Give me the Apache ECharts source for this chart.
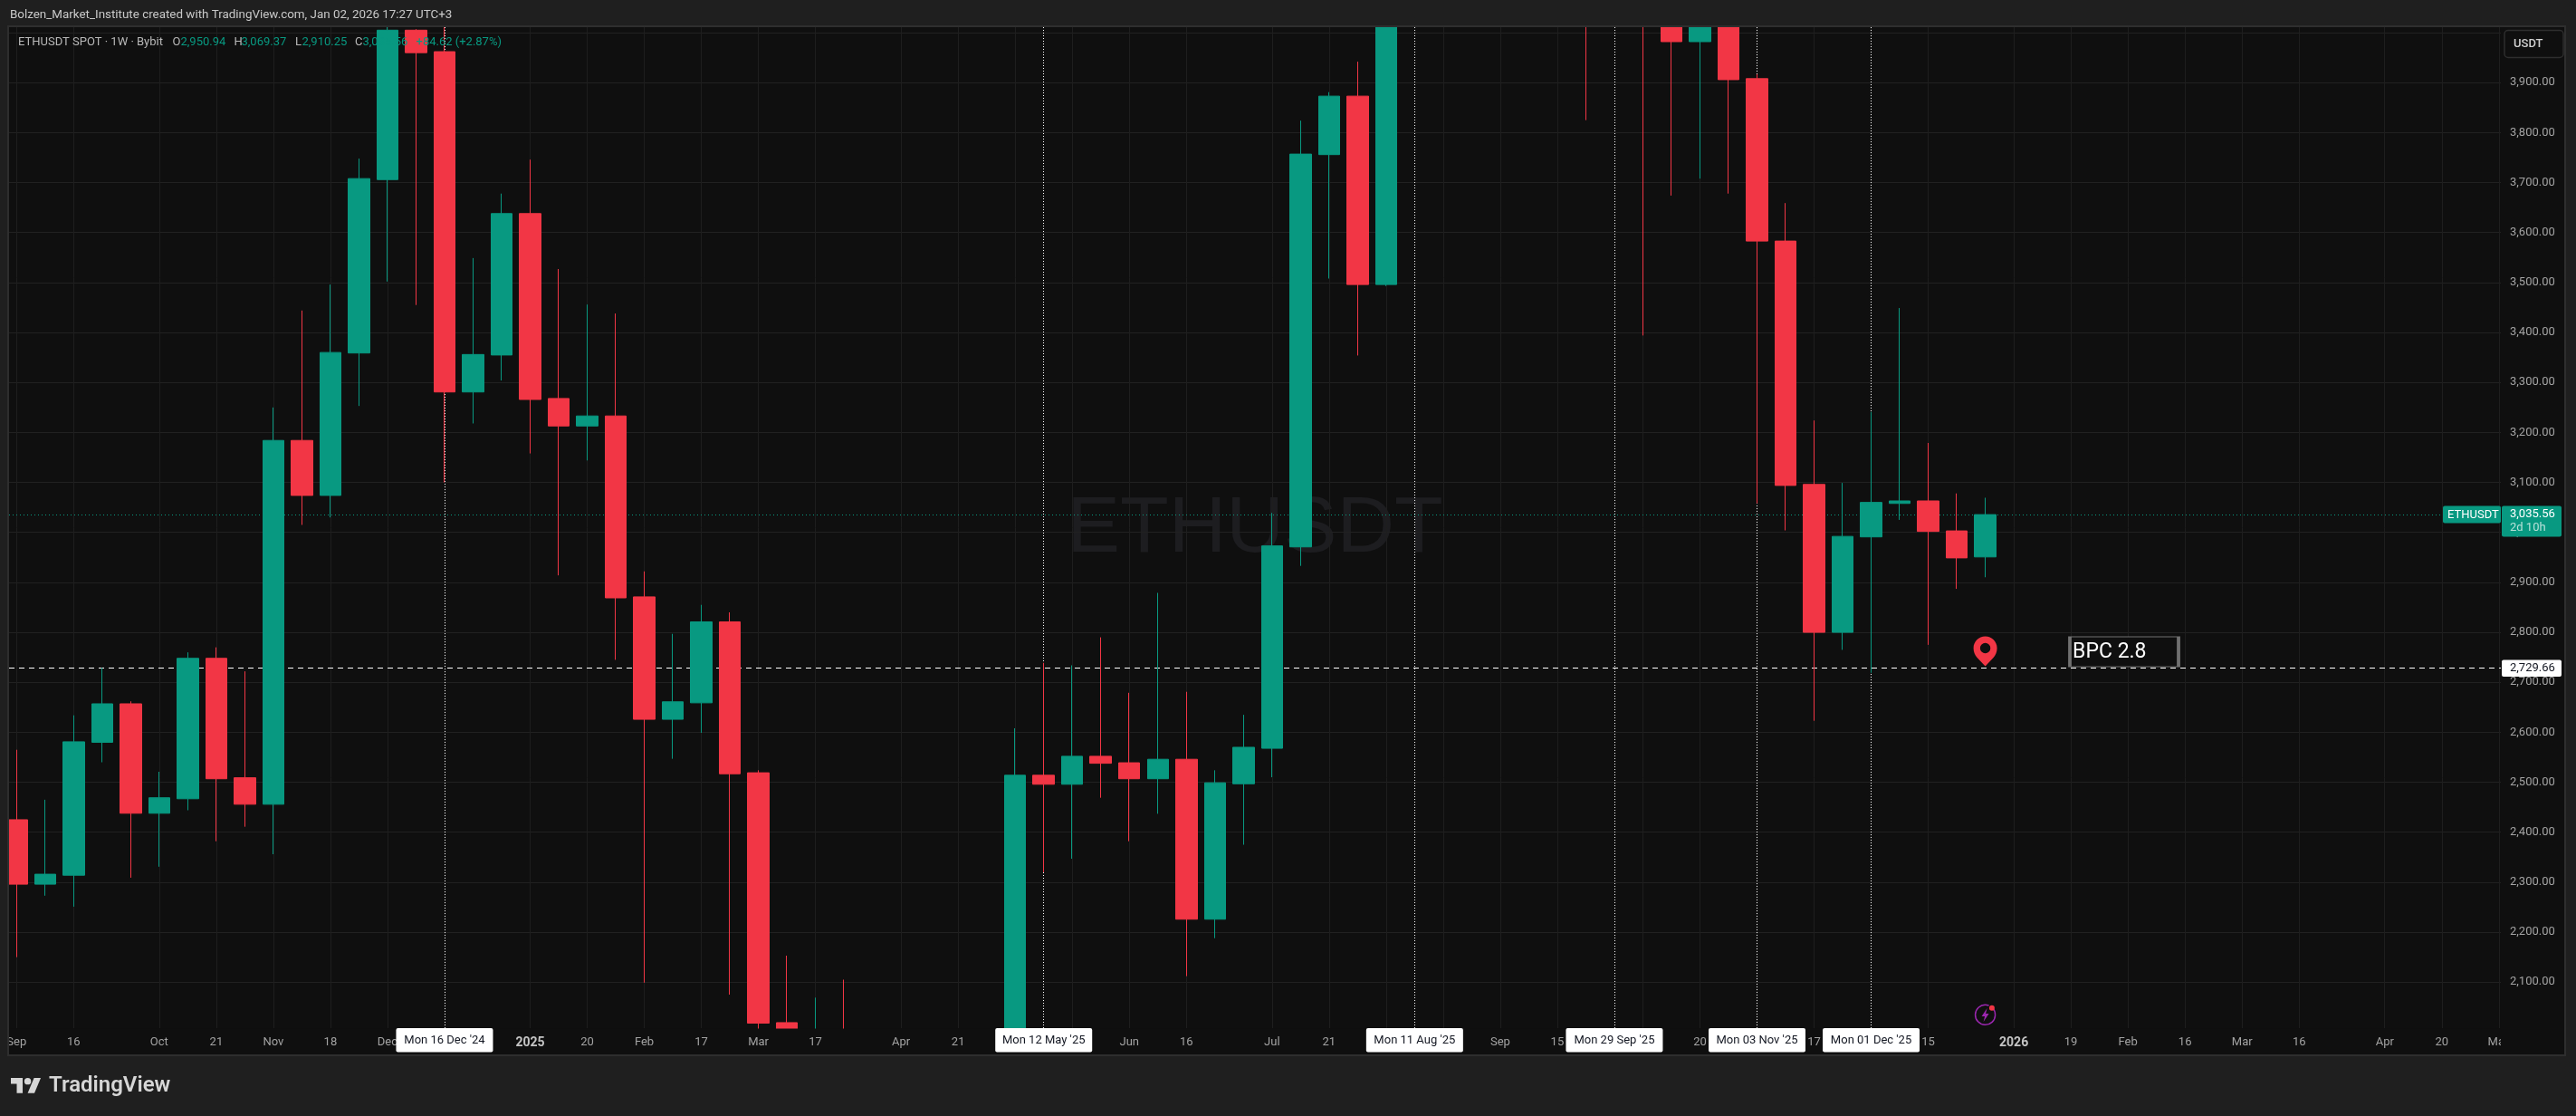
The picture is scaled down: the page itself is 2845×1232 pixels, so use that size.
<!DOCTYPE html>
<html>
<head>
<meta charset="utf-8">
<title>ETHUSDT SPOT 1W Bybit</title>
<style>
  html, body { margin: 0; padding: 0; background: #1f1f1f; }
  #chart { width: 2845px; height: 1232px; }
</style>
</head>
<body>
<div id="chart"></div>
<script src="https://cdn.jsdelivr.net/npm/echarts@6/dist/echarts.min.js"></script>
<script>
// weekly candles, Monday of each week (x axis is the week index)
const weeks = [
  '2024-09-02','2024-09-09','2024-09-16','2024-09-23','2024-09-30','2024-10-07','2024-10-14','2024-10-21','2024-10-28','2024-11-04',
  '2024-11-11','2024-11-18','2024-11-25','2024-12-02','2024-12-09','2024-12-16','2024-12-23','2024-12-30','2025-01-06','2025-01-13',
  '2025-01-20','2025-01-27','2025-02-03','2025-02-10','2025-02-17','2025-02-24','2025-03-03','2025-03-10','2025-03-17','2025-03-24',
  '2025-03-31','2025-04-07','2025-04-14','2025-04-21','2025-04-28','2025-05-05','2025-05-12','2025-05-19','2025-05-26','2025-06-02',
  '2025-06-09','2025-06-16','2025-06-23','2025-06-30','2025-07-07','2025-07-14','2025-07-21','2025-07-28','2025-08-04','2025-08-11',
  '2025-08-18','2025-08-25','2025-09-01','2025-09-08','2025-09-15','2025-09-22','2025-09-29','2025-10-06','2025-10-13','2025-10-20',
  '2025-10-27','2025-11-03','2025-11-10','2025-11-17','2025-11-24','2025-12-01','2025-12-08','2025-12-15','2025-12-22','2025-12-29'
]
const opens = [
  2425,2296,2314,2580,2657,2438,2467,2748,2509,2456,
  3184,3074,3359,3706,4005,3962,3281,3355,3638,3268,
  3213,3233,2871,2626,2659,2821,2519,2019,1890,1975,
  1825,1810,1590,1580,1825,1810,2514,2496,2552,2539,
  2507,2546,2226,2497,2568,2971,3756,3873,3496,4250,
  4470,4780,4310,4320,4710,4450,4030,4510,4150,3982,
  4160,3908,3583,3096,2800,2991,3058,3063,3003,2950.94
]
const closes = [
  2296,2316,2581,2657,2438,2469,2748,2507,2456,3184,
  3074,3360,3708,4005,3960,3281,3356,3638,3266,3213,
  3233,2869,2626,2661,2821,2517,2018,1905,1975,1825,
  1810,1590,1615,1825,1840,2514,2496,2552,2538,2507,
  2546,2226,2499,2570,2973,3757,3873,3496,4250,4470,
  4780,4310,4320,4710,4450,4030,4510,4150,3982,4160,
  3906,3583,3094,2800,2992,3060,3063,3002,2949,3035.56
]
const lows = [
  2150,2273,2251,2540,2309,2331,2444,2382,2411,2356,
  3015,3030,3253,3502,3455,3100,3218,3304,3158,2914,
  3144,2745,2099,2547,2599,2075,2000,1750,1820,1785,
  1750,1385,1530,1570,1740,1750,2320,2347,2469,2382,
  2437,2112,2188,2375,2510,2933,3508,3354,3493,4200,
  4060,4250,4210,4280,4400,3825,4015,3394,3674,3708,
  3678,3058,3004,2623,2765,2719,3025,2775,2887,2910.25
]
const highs = [
  2565,2465,2634,2729,2662,2521,2760,2770,2722,3250,
  3444,3496,3748,4090,4007,4110,3549,3678,3746,3527,
  3456,3438,2922,2797,2855,2840,2524,2153,2069,2105,
  1900,1820,1690,1860,1880,2608,2739,2734,2790,2679,
  2879,2681,2524,2635,3039,3824,3881,3942,4330,4790,
  4950,4950,4500,4770,4770,4470,4590,4750,4290,4250,
  4250,3917,3659,3224,3099,3241,3449,3179,3078,3069.37
]

// axis ticks and labels
const priceTicks = [2100,2200,2300,2400,2500,2600,2700,2800,2900,3000,3100,3200,3300,3400,3500,3600,3700,3800,3900,4000]
const priceLabels = [2100,2200,2300,2400,2500,2600,2700,2800,2900,3000,3100,3200,3300,3400,3500,3600,3700,3800,3900]
const timeTicks = [0,2,5,7,9,11,13,15,18,20,22,24,26,28,31,33,35,37,39,41,44,46,48,50,52,54,57,59,61,63,65,67,70,72,74,76,78,80,83,85,87]
const timeLabels = ['Sep','16','Oct','21','Nov','18','Dec','16','2025','20','Feb','17','Mar','17','Apr','21','May','19','Jun','16','Jul','21','Aug','18','Sep','15','Oct','20','Nov','17','Dec','15','2026','19','Feb','16','Mar','16','Apr','20','May']

// drawn vertical lines and their date tags
const markedWeeks = [15,36,49,56,61,65]
const markedLabels = ["Mon 16 Dec '24","Mon 12 May '25","Mon 11 Aug '25","Mon 29 Sep '25","Mon 03 Nov '25","Mon 01 Dec '25"]

const lastPrice = 3035.56
const levelPrice = 2729.66
const pinPoint = [69, 2762]
const notePoint = [73.869, 2761.15]
const noteText = 'BPC 2.8'
const eventWeek = 69

const UP = '#089981'
const DOWN = '#F23645'
const PANE = '#0f0f0f'
const PAGE = '#1f1f1f'
const FONT = 'Roboto, sans-serif'
const fmt = v => v.toLocaleString('en-US', { minimumFractionDigits: 2, maximumFractionDigits: 2 })

// pane geometry
const L = 10, T = 30, R = 2762, B = 1135
const X_MIN = -0.2634, X_MAX = 87.07
const PIN = 'path://M13 0C5.8 0 0 5.8 0 13c0 4 1.5 7.5 4 10.5L13 33l9-9.5c2.5-3 4-6.5 4-10.5C26 5.8 20.2 0 13 0zM13 7.3a5.7 5.7 0 1 1 0 11.4a5.7 5.7 0 1 1 0-11.4z'

const chart = echarts.init(document.getElementById('chart'), null, { renderer: 'canvas' })

chart.setOption({
  animation: false,
  backgroundColor: PAGE,
  grid: { left: L, top: T, right: 2845 - R, bottom: 1232 - B, containLabel: false },
  xAxis: [
    {
      // vertical grid, sits under the candles
      type: 'value',
      min: X_MIN,
      max: X_MAX,
      axisLine: { show: false },
      axisTick: { show: false, customValues: timeTicks },
      splitLine: { show: true, lineStyle: { color: '#1e1e1e', width: 1 } },
      axisLabel: { show: false }
    },
    {
      // time labels, sit over the strip that hides candles running off the pane
      type: 'value',
      position: 'bottom',
      z: 6,
      min: X_MIN,
      max: X_MAX,
      axisLine: { show: false },
      axisTick: { show: false, customValues: timeTicks },
      splitLine: { show: false },
      axisLabel: {
        customValues: timeTicks,
        margin: 9,
        color: '#a3a3a3',
        fontFamily: FONT,
        fontSize: 13,
        hideOverlap: false,
        showMinLabel: true,
        showMaxLabel: true,
        formatter: v => {
          const s = timeLabels[timeTicks.indexOf(v)]
          return s === '2025' || s === '2026' ? '{b|' + s + '}' : s
        },
        rich: { b: { color: '#c4c4c4', fontFamily: FONT, fontSize: 14, fontWeight: 'bold' } }
      }
    }
  ],
  yAxis: {
    type: 'value',
    position: 'right',
    min: 2008,
    max: 4011,
    axisLine: { show: false },
    axisTick: { show: false, customValues: priceTicks },
    splitLine: { show: true, lineStyle: { color: '#212121', width: 1 } },
    axisLabel: {
      customValues: priceLabels,
      margin: 10,
      color: '#a3a3a3',
      fontFamily: FONT,
      fontSize: 13,
      formatter: v => fmt(v)
    }
  },
  series: [
    {
      type: 'candlestick',
      z: 2,
      barWidth: 24,
      itemStyle: { color: UP, color0: DOWN, borderColor: UP, borderColor0: DOWN, borderWidth: 1 },
      data: weeks.map((w, i) => [i, opens[i], closes[i], lows[i], highs[i]]),
      markLine: {
        z: 1,
        silent: true,
        symbol: 'none',
        animation: false,
        label: { show: false },
        data: [
          ...markedWeeks.map(w => ({ xAxis: w, lineStyle: { color: '#ffffff', width: 1, type: [1, 2] } })),
          { yAxis: lastPrice, lineStyle: { color: UP, width: 1, type: [1, 3] } },
          { yAxis: levelPrice, lineStyle: { color: '#ffffff', width: 1, type: [6, 5] } }
        ]
      }
    },
    {
      type: 'scatter',
      z: 3,
      symbol: PIN,
      symbolSize: [26, 33],
      itemStyle: { color: DOWN, opacity: 1 },
      data: [pinPoint]
    },
    {
      type: 'scatter',
      z: 3,
      symbol: 'rect',
      symbolSize: [120, 33],
      itemStyle: { color: PANE, borderColor: '#707070', borderWidth: 2, opacity: 1 },
      label: {
        show: true,
        position: 'insideLeft',
        distance: 5,
        offset: [0, 1],
        formatter: noteText,
        color: '#ffffff',
        fontFamily: FONT,
        fontSize: 23
      },
      data: [notePoint]
    }
  ]
})

// everything around the plot: frame, tags, header, logo
const px = v => chart.convertToPixel({ xAxisIndex: 0 }, v)
const py = v => chart.convertToPixel({ yAxisIndex: 0 }, v)

const text = (x, y, s, fill, extra) => ({
  type: 'text', z: 30, silent: true, x, y,
  style: Object.assign({ text: s, fill, font: '13px ' + FONT, textVerticalAlign: 'middle' }, extra || {})
})
const box = (x, y, w, h, fill, z, r) => ({
  type: 'rect', z, silent: true,
  shape: { x, y, width: w, height: h, r: r || 0 },
  style: { fill }
})

// TradingView mark, drawn from its 36x18 shape
const LOGO_K = 0.93, LOGO_X = 12, LOGO_Y = 1186.2
const logoPts = pts => pts.map(p => [LOGO_X + p[0] * LOGO_K, LOGO_Y + p[1] * LOGO_K])
const evX = px(eventWeek)

const graphics = [
  // pane background, watermark
  box(L, T, 2833 - L, 1165 - T, PANE, -3),
  { type: 'text', z: -1, silent: true, x: (L + R) / 2, y: (T + B) / 2 + 2,
    style: { text: 'ETHUSDT', fill: '#1d1d20', font: '88px "Liberation Sans"', textAlign: 'center', textVerticalAlign: 'middle' } },
  // strips that hide candles running off the pane, time labels go over these
  box(0, 0, 2845, T, PAGE, 5),
  box(L, B + 0.5, R - L, 1165 - B, PANE, 5),
  box(0, 1165, 2845, 67, PAGE, 5),
  // clip the time labels at the pane edges
  box(0, 0, L - 1, 1232, PAGE, 7),
  box(R, B + 1, 2833 - R, 1165 - B - 1, PANE, 7),
  // frame
  { type: 'rect', z: 8, silent: true, shape: { x: 9, y: 29, width: 2824, height: 1136 },
    style: { fill: null, stroke: '#2e2e2e', lineWidth: 2 } },
  // header
  text(11, 17, 'Bolzen_Market_Institute created with TradingView.com, Jan 02, 2026 17:27 UTC+3', '#c8c8c8', { font: '13.4px ' + FONT }),
  // legend line, drawn over the candles
  text(20, 47, 'ETHUSDT SPOT · 1W · Bybit', '#b8b8b8'),
  text(190.5, 47, 'O', '#b8b8b8'), text(199.5, 47, fmt(opens[69]), UP),
  text(258.5, 47, 'H', '#b8b8b8'), text(266.5, 47, fmt(highs[69]), UP),
  text(326, 47, 'L', '#b8b8b8'), text(333.5, 47, fmt(lows[69]), UP),
  text(392, 47, 'C', '#b8b8b8'), text(400.5, 47, fmt(closes[69]), UP),
  text(459.5, 47, '+84.62 (+2.87%)', UP),
  // unit button
  { type: 'rect', z: 20, silent: true, shape: { x: 2766, y: 33.5, width: 65, height: 30, r: 4 },
    style: { fill: PANE, stroke: '#2e2e2e', lineWidth: 1.5 } },
  text(2776, 48.5, 'USDT', '#d1d1d1', { font: '500 13px ' + FONT }),
  // last price tags
  box(2698, py(lastPrice) - 9.5, 64, 19, UP, 20, 2),
  text(2703, py(lastPrice) + 0.5, 'ETHUSDT', '#ffffff'),
  box(2763, py(lastPrice) - 9.5, 66, 34, UP, 20, 2),
  text(2772, py(lastPrice) - 0.5, fmt(lastPrice), '#ffffff'),
  text(2772, py(lastPrice) + 14.5, '2d 10h', '#b7e0d8'),
  // level tag
  box(2763, py(levelPrice) - 8.5, 66, 18.5, '#ffffff', 20, 2),
  text(2772, py(levelPrice) + 0.5, fmt(levelPrice), '#131722'),
  // logo
  { type: 'polygon', z: 20, silent: true, shape: { points: logoPts([[0, 4], [14, 4], [14, 22], [7, 22], [7, 11], [0, 11]]) }, style: { fill: '#d6d6d6' } },
  { type: 'polygon', z: 20, silent: true, shape: { points: logoPts([[20, 22], [28, 22], [35.5, 4], [27.5, 4]]) }, style: { fill: '#d6d6d6' } },
  { type: 'circle', z: 20, silent: true, shape: { cx: LOGO_X + 20 * LOGO_K, cy: LOGO_Y + 8 * LOGO_K, r: 4 * LOGO_K }, style: { fill: '#d6d6d6' } },
  text(54, 1199, 'TradingView', '#d6d6d6', { font: '600 24px ' + FONT }),
  // event icon
  { type: 'arc', z: 20, silent: true, shape: { cx: evX, cy: 1120.3, r: 11, startAngle: -0.75, endAngle: -1.2, clockwise: true },
    style: { fill: null, stroke: '#9c27b0', lineWidth: 1.5 } },
  { type: 'polygon', z: 20, silent: true,
    shape: { points: [[evX + 2, 1113], [evX - 4, 1122], [evX - 0.5, 1122], [evX - 2, 1128], [evX + 4, 1119], [evX + 0.5, 1119]] },
    style: { fill: '#9c27b0' } },
  { type: 'circle', z: 21, silent: true, shape: { cx: evX + 7.3, cy: 1112.7, r: 3 }, style: { fill: DOWN } }
]

// white date tags under the vertical lines
markedWeeks.forEach((w, i) => {
  const x = px(w)
  graphics.push(box(x - 53.5, B, 107, 26.5, '#ffffff', 20, 2))
  graphics.push(text(x, B + 14, markedLabels[i], '#131722', { textAlign: 'center' }))
})

chart.setOption({ graphic: graphics })
</script>
</body>
</html>
